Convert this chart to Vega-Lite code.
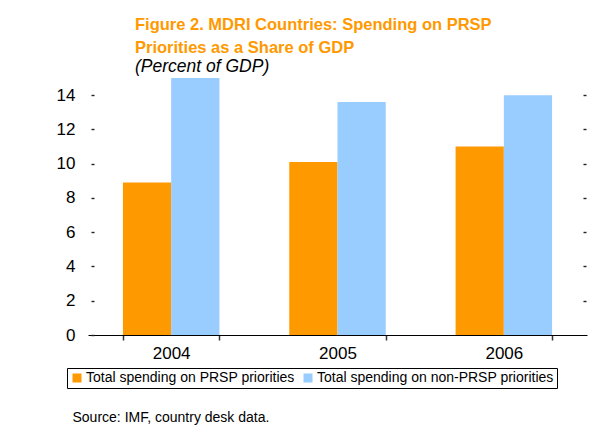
{
  "$schema": "https://vega.github.io/schema/vega-lite/v6.json",
  "width": 499,
  "height": 257,
  "autosize": "none",
  "padding": {"left": 88, "top": 78, "right": 9, "bottom": 107},
  "background": "white",
  "config": {
    "font": "Liberation Sans",
    "view": {"stroke": null}
  },
  "title": {
    "text": ["Figure 2. MDRI Countries: Spending on PRSP", "Priorities as a Share of GDP"],
    "subtitle": "(Percent of GDP)",
    "anchor": "start",
    "frame": "group",
    "dx": 47,
    "offset": 2,
    "fontSize": 16.5,
    "fontWeight": "bold",
    "color": "#FF9900",
    "lineHeight": 23,
    "subtitleFontSize": 17.5,
    "subtitleFontStyle": "italic",
    "subtitleColor": "black",
    "subtitlePadding": 2
  },
  "data": {
    "values": [
      {"year": "2004", "series": "Total spending on PRSP priorities", "value": 8.9},
      {"year": "2004", "series": "Total spending on non-PRSP priorities", "value": 15.0},
      {"year": "2005", "series": "Total spending on PRSP priorities", "value": 10.1},
      {"year": "2005", "series": "Total spending on non-PRSP priorities", "value": 13.6},
      {"year": "2006", "series": "Total spending on PRSP priorities", "value": 11.0},
      {"year": "2006", "series": "Total spending on non-PRSP priorities", "value": 14.0}
    ]
  },
  "layer": [
    {
      "mark": {"type": "bar"},
      "encoding": {
        "x": {
          "field": "year",
          "type": "nominal",
          "scale": {"paddingInner": 0.42, "paddingOuter": 0.21},
          "axis": {
            "labelAngle": 0,
            "labelFontSize": 17,
            "labelColor": "black",
            "labelPadding": 5,
            "domainColor": "black",
            "domainWidth": 1,
            "tickColor": "#333333",
            "tickWidth": 1.5,
            "tickSize": 5,
            "tickBand": "extent",
            "title": "Source: IMF, country desk data.",
            "titleFontSize": 14,
            "titleFontWeight": "normal",
            "titleColor": "black",
            "titleAlign": "left",
            "titleAnchor": "start",
            "titleBaseline": "middle",
            "titleX": -16,
            "titleY": 82
          }
        },
        "xOffset": {
          "field": "series",
          "type": "nominal",
          "sort": ["Total spending on PRSP priorities", "Total spending on non-PRSP priorities"]
        },
        "y": {
          "field": "value",
          "type": "quantitative",
          "scale": {"domain": [0, 15], "nice": false},
          "axis": {
            "values": [0, 2, 4, 6, 8, 10, 12, 14],
            "domain": false,
            "grid": false,
            "tickSize": 3,
            "tickWidth": 1.4,
            "tickColor": "#222222",
            "offset": -6,
            "labelPadding": 16,
            "labelFontSize": 17,
            "labelColor": "black",
            "title": null
          }
        },
        "color": {
          "field": "series",
          "type": "nominal",
          "sort": ["Total spending on PRSP priorities", "Total spending on non-PRSP priorities"],
          "scale": {"range": ["#FF9900", "#99CCFF"]},
          "legend": {
            "orient": "none",
            "legendX": -21,
            "legendY": 290,
            "direction": "horizontal",
            "title": null,
            "symbolType": "square",
            "symbolSize": 81,
            "symbolStrokeWidth": 0,
            "labelFontSize": 14,
            "labelColor": "black",
            "labelLimit": 0,
            "labelOffset": 2,
            "columnPadding": 6,
            "strokeColor": "black",
            "padding": 3
          }
        }
      }
    },
    {
      "mark": {"type": "tick", "opacity": 0},
      "encoding": {
        "y": {
          "field": "value",
          "type": "quantitative",
          "axis": {
            "orient": "right",
            "values": [2, 4, 6, 8, 10, 12, 14],
            "domain": false,
            "grid": false,
            "labels": false,
            "tickSize": 3,
            "tickWidth": 1.4,
            "tickColor": "#222222",
            "offset": -4,
            "title": null
          }
        }
      }
    }
  ],
  "resolve": {"axis": {"y": "independent"}}
}
